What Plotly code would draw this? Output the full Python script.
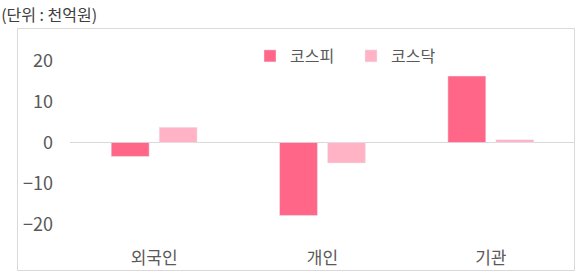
import plotly.graph_objects as go

categories = ["외국인", "개인", "기관"]
kospi = [-3.4, -17.8, 16.2]
kosdaq = [3.7, -5.0, 0.7]
series_names = ["코스피", "코스닥"]
ytick_vals = [-20, -10, 0, 10, 20]
unit_label = "(단위 : 천억원)"

FONT = "Noto Sans CJK KR"
C_KOSPI = "#FF6688"
C_KOSDAQ = "#FFB3C5"

fig = go.Figure()
fig.add_trace(go.Bar(x=categories, y=kospi, name=series_names[0], marker_color=C_KOSPI))
fig.add_trace(go.Bar(x=categories, y=kosdaq, name=series_names[1], marker_color=C_KOSDAQ))

L, R, T, B = 70, 5, 40, 32
W, H = 580, 277
pw, ph = W - L - R, H - T - B

def px_x(x):
    return (x - L) / pw

def px_y(y):
    return (H - B - y) / ph

fig.update_layout(
    width=W, height=H,
    margin=dict(l=L, r=R, t=T, b=B, pad=0),
    paper_bgcolor="white", plot_bgcolor="white",
    barmode="group", bargap=0.43, bargroupgap=0.21,
    font=dict(family=FONT, color="#595959"),
    title=dict(text=unit_label, x=0.002, xref="container", xanchor="left",
               y=1 - 15 / H, yref="container", yanchor="middle",
               font=dict(family=FONT, size=16, color="#404040")),
    legend=dict(orientation="h", x=px_x(250), xanchor="left", y=px_y(39), yanchor="top",
                font=dict(family=FONT, size=16, color="#595959"),
                bgcolor="rgba(0,0,0,0)", entrywidth=56, itemwidth=30),
    xaxis=dict(showgrid=False, showline=False, ticks="",
               tickfont=dict(family=FONT, size=17, color="#595959"),
               ticklabelstandoff=1),
    yaxis=dict(range=[-25, 25], tickvals=ytick_vals, showgrid=False,
               zeroline=True, zerolinecolor="#d9d9d9", zerolinewidth=1,
               showline=False, ticks="",
               tickfont=dict(family=FONT, size=18, color="#595959"),
               ticklabelstandoff=16),
    shapes=[dict(type="rect", xref="paper", yref="paper",
                 x0=px_x(17.5), x1=px_x(574.5), y0=px_y(270.5), y1=px_y(28.5),
                 line=dict(color="#d9d9d9", width=1), fillcolor="rgba(0,0,0,0)",
                 layer="below")],
)

fig.write_html("out.html")
